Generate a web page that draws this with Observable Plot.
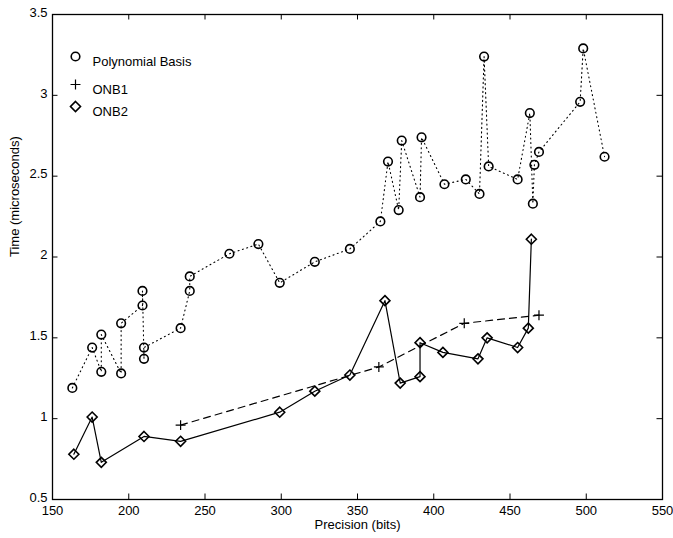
<!DOCTYPE html>
<html>
<head>
<meta charset="utf-8">
<script src="https://cdn.jsdelivr.net/npm/d3@7"></script>
<script src="https://cdn.jsdelivr.net/npm/@observablehq/plot@0.6"></script>
<style>
  html, body { margin: 0; padding: 0; background: #fff; }
  #chart { width: 673px; height: 538px; }
</style>
</head>
<body>
<div id="chart"></div>
<script>
// Polynomial Basis (circles, dotted)
const polyX = [163, 176, 182, 182, 195, 195, 209, 209, 210, 210, 234, 240, 240, 266, 285, 299, 322, 345, 365, 370, 377, 379, 391, 392, 407, 421, 430, 433, 436, 455, 463, 465, 466, 469, 496, 498, 512];
const polyY = [1.19, 1.44, 1.29, 1.52, 1.28, 1.59, 1.70, 1.79, 1.37, 1.44, 1.56, 1.79, 1.88, 2.02, 2.08, 1.84, 1.97, 2.05, 2.22, 2.59, 2.29, 2.72, 2.37, 2.74, 2.45, 2.48, 2.39, 3.24, 2.56, 2.48, 2.89, 2.33, 2.57, 2.65, 2.96, 3.29, 2.62];
// ONB1 (plus, dashed)
const onb1X = [234, 364, 420, 469];
const onb1Y = [0.96, 1.32, 1.59, 1.64];
// ONB2 (diamond, solid)
const onb2X = [164, 176, 182, 210, 234, 299, 322, 345, 368, 378, 391, 391, 406, 429, 435, 455, 462, 464];
const onb2Y = [0.78, 1.01, 0.73, 0.89, 0.86, 1.04, 1.17, 1.27, 1.73, 1.22, 1.26, 1.47, 1.41, 1.37, 1.50, 1.44, 1.56, 2.11];

const xTicks = [150, 200, 250, 300, 350, 400, 450, 500, 550];
const yTicks = [0.5, 1, 1.5, 2, 2.5, 3, 3.5];
const yTickLabels = ["0.5", "1", "1.5", "2", "2.5", "3", "3.5"];
const seriesNames = ["Polynomial Basis", "ONB1", "ONB2"];
const xLabel = "Precision (bits)";
const yLabel = "Time (microseconds)";

const poly = polyX.map((x, i) => ({x, y: polyY[i]}));
const onb1 = onb1X.map((x, i) => ({x, y: onb1Y[i]}));
const onb2 = onb2X.map((x, i) => ({x, y: onb2Y[i]}));

const font = "'Liberation Sans', Arial, Helvetica, sans-serif";
const tickLenY = 0.034; // in y units (~5.5px)
const tickLenX = 3.6;   // in x units (~5.5px)
const lfs = 13;

const legendMarks = [
  Plot.dot([0], {frameAnchor: "top-left", dx: 23, dy: 42, symbol: "circle", r: 4.3, stroke: "black", strokeWidth: 1.6, fill: "none"}),
  Plot.text([seriesNames[0]], {frameAnchor: "top-left", dx: 40, dy: 42, text: d => d, textAnchor: "start", fontSize: lfs, fill: "black"}),
  Plot.dot([0], {frameAnchor: "top-left", dx: 23, dy: 70, symbol: "plus", r: 3.3, stroke: "black", strokeWidth: 1.2}),
  Plot.text([seriesNames[1]], {frameAnchor: "top-left", dx: 40, dy: 70, text: d => d, textAnchor: "start", fontSize: lfs, fill: "black"}),
  Plot.dot([0], {frameAnchor: "top-left", dx: 23, dy: 92, symbol: "diamond2", r: 4.5, stroke: "black", strokeWidth: 1.6, fill: "none"}),
  Plot.text([seriesNames[2]], {frameAnchor: "top-left", dx: 40, dy: 92, text: d => d, textAnchor: "start", fontSize: lfs, fill: "black"})
];

const chart = Plot.plot({
  width: 673,
  height: 538,
  marginLeft: 52,
  marginRight: 11,
  marginTop: 14,
  marginBottom: 39,
  style: {fontFamily: font, fontSize: "13px", color: "black", background: "white"},
  x: {domain: [150, 550]},
  y: {domain: [0.5, 3.5]},
  marks: [
    Plot.frame({stroke: "black", strokeWidth: 1.3}),
    // inward ticks, bottom and top
    Plot.ruleX(xTicks, {y1: 0.5, y2: 0.5 + tickLenY, stroke: "black", strokeWidth: 1}),
    Plot.ruleX(xTicks, {y1: 3.5, y2: 3.5 - tickLenY, stroke: "black", strokeWidth: 1}),
    // inward ticks, left and right
    Plot.ruleY(yTicks, {x1: 150, x2: 150 + tickLenX, stroke: "black", strokeWidth: 1}),
    Plot.ruleY(yTicks, {x1: 550, x2: 550 - tickLenX, stroke: "black", strokeWidth: 1}),
    Plot.axisX({ticks: xTicks, tickSize: 0, tickPadding: 6, tickFormat: d => String(d), label: null, fontSize: 13}),
    Plot.axisY({ticks: yTicks, tickSize: 0, tickPadding: 5, tickFormat: d => yTickLabels[yTicks.indexOf(d)], label: null, fontSize: 13, dy: -2}),
    Plot.text([xLabel], {frameAnchor: "bottom", dy: 29, text: d => d, fontSize: lfs, fill: "black"}),
    Plot.text([yLabel], {frameAnchor: "left", dx: -38, rotate: -90, text: d => d, fontSize: lfs, fill: "black"}),
    // series
    Plot.line(poly, {x: "x", y: "y", stroke: "black", strokeWidth: 1.1, strokeDasharray: "1,3.5"}),
    Plot.line(onb1, {x: "x", y: "y", stroke: "black", strokeWidth: 1.2, strokeDasharray: "7,5"}),
    Plot.line(onb2, {x: "x", y: "y", stroke: "black", strokeWidth: 1.2}),
    Plot.dot(poly, {x: "x", y: "y", symbol: "circle", r: 4.3, stroke: "black", strokeWidth: 1.6, fill: "none"}),
    Plot.dot(onb1, {x: "x", y: "y", symbol: "plus", r: 3.3, stroke: "black", strokeWidth: 1.2}),
    Plot.dot(onb2, {x: "x", y: "y", symbol: "diamond2", r: 4.5, stroke: "black", strokeWidth: 1.6, fill: "none"}),
    ...legendMarks
  ]
});
document.getElementById("chart").appendChild(chart);
</script>
</body>
</html>
